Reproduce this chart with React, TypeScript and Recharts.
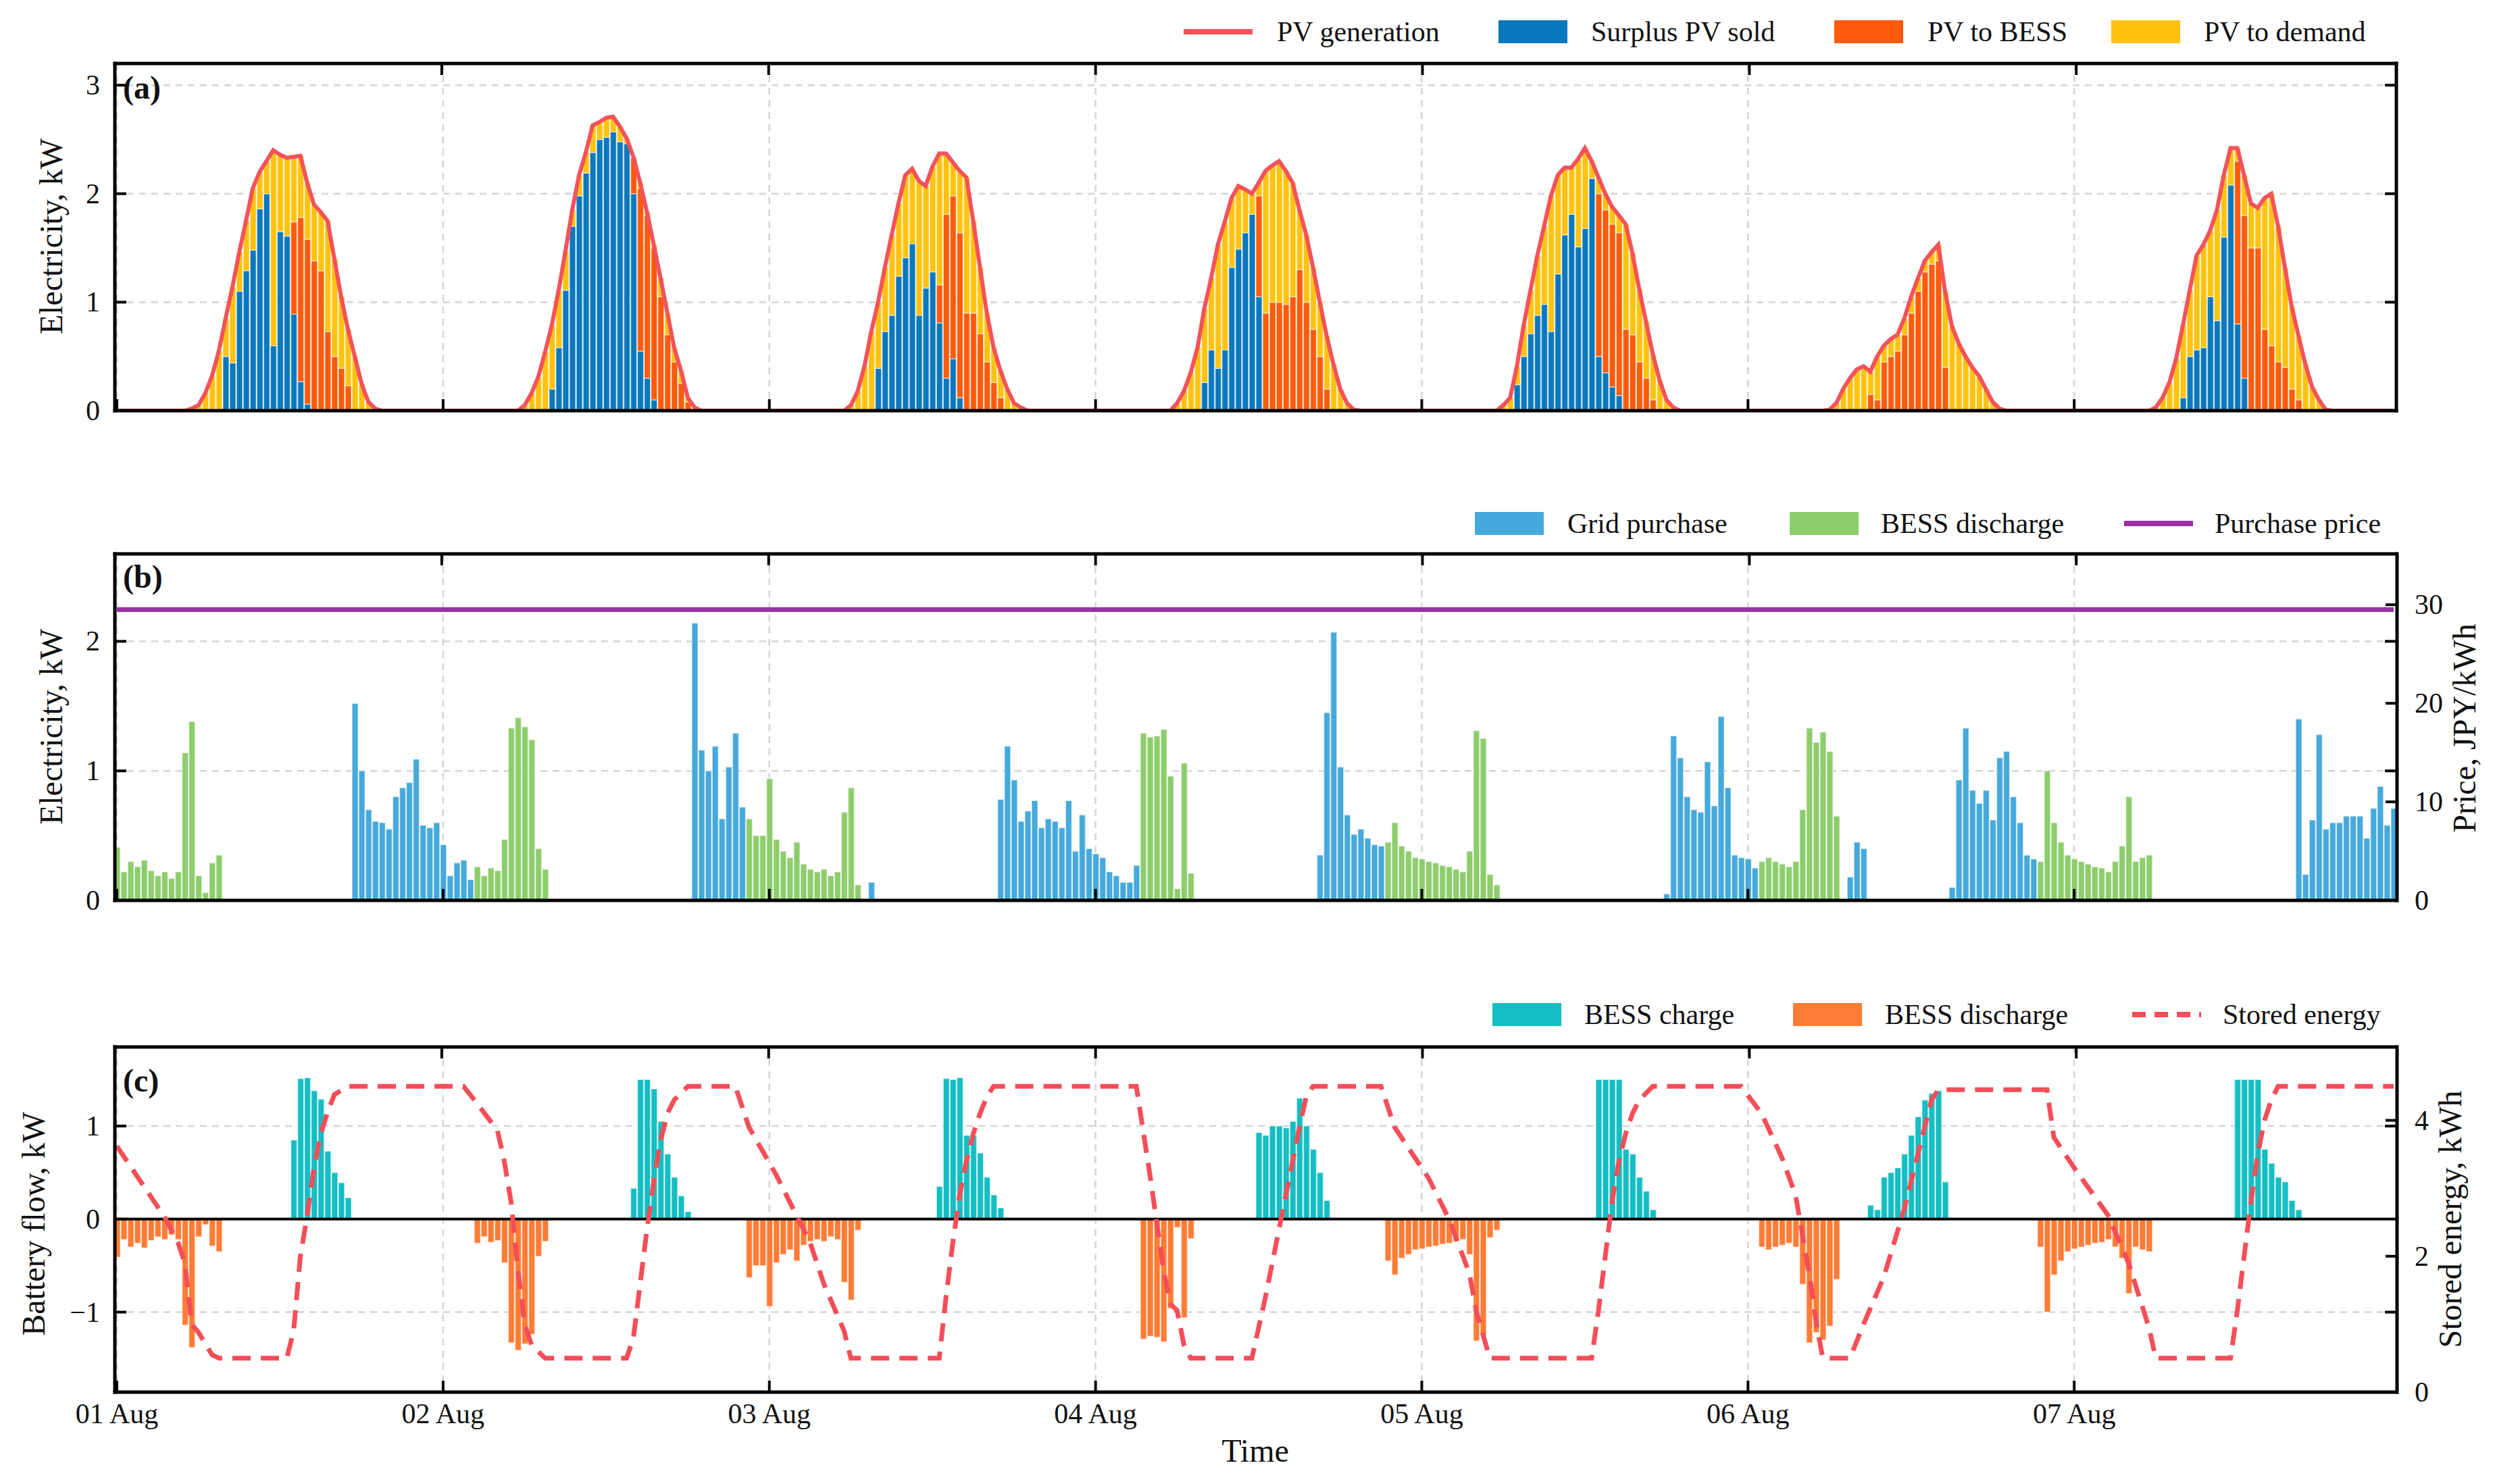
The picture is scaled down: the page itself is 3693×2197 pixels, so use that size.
import React from 'react';
import { ComposedChart, Bar, Line, XAxis, YAxis, CartesianGrid, ReferenceLine } from 'recharts';

// half-hour steps, 01 Aug 00:00 .. 07 Aug 23:30
const SLOTS = 336;
const dayLabels = ['01 Aug', '02 Aug', '03 Aug', '04 Aug', '05 Aug', '06 Aug', '07 Aug'];
const dayTicks = dayLabels.map((_, i) => i * 48);

// [first slot, values...] for each day
type Segment = [number, number[]];

const pvGeneration: Segment[] = [
  [11, [0.02, 0.05, 0.16, 0.32, 0.55, 0.85, 1.14, 1.46, 1.75, 2.05, 2.2, 2.3, 2.4, 2.36, 2.33, 2.34, 2.35, 2.1, 1.9, 1.83, 1.75, 1.4, 1.05, 0.75, 0.5, 0.25, 0.08, 0.02]],
  [60, [0.05, 0.16, 0.31, 0.54, 0.79, 1.11, 1.47, 1.85, 2.17, 2.38, 2.63, 2.66, 2.7, 2.71, 2.62, 2.51, 2.34, 2.1, 1.83, 1.53, 1.22, 0.9, 0.58, 0.37, 0.12, 0.03]],
  [108, [0.05, 0.18, 0.41, 0.73, 1.0, 1.32, 1.62, 1.91, 2.17, 2.23, 2.12, 2.07, 2.25, 2.37, 2.37, 2.29, 2.21, 2.15, 1.75, 1.32, 0.9, 0.58, 0.37, 0.2, 0.07, 0.03]],
  [156, [0.07, 0.18, 0.35, 0.58, 0.94, 1.22, 1.53, 1.74, 1.96, 2.07, 2.04, 2.0, 2.1, 2.21, 2.26, 2.3, 2.21, 2.1, 1.85, 1.62, 1.32, 1.0, 0.69, 0.43, 0.2, 0.07, 0.01]],
  [204, [0.05, 0.12, 0.41, 0.79, 1.11, 1.43, 1.7, 1.98, 2.17, 2.24, 2.24, 2.32, 2.42, 2.3, 2.15, 2.0, 1.88, 1.8, 1.72, 1.45, 1.12, 0.82, 0.52, 0.28, 0.1, 0.03]],
  [252, [0.01, 0.07, 0.2, 0.3, 0.38, 0.41, 0.36, 0.5, 0.6, 0.66, 0.7, 0.85, 1.05, 1.22, 1.38, 1.46, 1.53, 1.1, 0.78, 0.62, 0.5, 0.4, 0.32, 0.2, 0.08, 0.02]],
  [300, [0.03, 0.12, 0.26, 0.48, 0.79, 1.11, 1.43, 1.53, 1.66, 1.85, 2.17, 2.42, 2.42, 2.17, 1.91, 1.87, 1.96, 2.0, 1.7, 1.32, 0.96, 0.69, 0.43, 0.22, 0.1, 0.01]],
];

const surplusSold: Segment[] = [
  [16, [0.5, 0.44, 1.1, 1.29, 1.48, 1.86, 2.0, 0.6, 1.65, 1.61, 0.89, 0.27, 0.06]],
  [64, [0.2, 0.58, 1.11, 1.7, 1.98, 2.19, 2.38, 2.5, 2.52, 2.57, 2.48, 2.46, 2.0, 0.55, 0.3, 0.1]],
  [112, [0.39, 0.73, 0.88, 1.24, 1.41, 1.54, 0.88, 1.13, 1.28, 0.81, 0.3, 0.48, 0.12]],
  [160, [0.26, 0.56, 0.39, 0.56, 1.32, 1.49, 1.64, 1.81, 1.05]],
  [206, [0.24, 0.5, 0.71, 0.88, 0.98, 0.73, 1.26, 1.62, 1.81, 1.51, 1.68, 2.14, 0.5, 0.35, 0.22, 0.14]],
  [304, [0.12, 0.5, 0.56, 0.58, 1.05, 0.83, 1.6, 2.08, 0.8, 0.3]],
];

// PV to BESS is also the BESS charge of panel (c)
const pvToBess: Segment[] = [
  [26, [0.85, 1.51, 1.52, 1.38, 1.29, 0.73, 0.5, 0.39, 0.23]],
  [76, [0.33, 1.5, 1.5, 1.4, 1.05, 0.7, 0.45, 0.25, 0.08]],
  [121, [0.35, 1.51, 1.5, 1.52, 0.9, 0.9, 0.71, 0.45, 0.26, 0.12]],
  [168, [0.93, 0.9, 1.0, 1.0, 0.98, 1.05, 1.3, 1.0, 0.75, 0.5, 0.2]],
  [218, [1.5, 1.5, 1.5, 1.5, 0.75, 0.7, 0.45, 0.3, 0.1]],
  [258, [0.15, 0.1, 0.45, 0.5, 0.55, 0.7, 0.9, 1.1, 1.28, 1.35, 1.38, 0.4]],
  [312, [1.5, 1.5, 1.5, 1.5, 0.75, 0.6, 0.45, 0.4, 0.2, 0.1]],
];

const pvToDemand: Segment[] = [
  [11, [0.02, 0.05, 0.16, 0.32, 0.55, 0.35, 0.7, 0.36, 0.46, 0.57, 0.34, 0.3, 1.8, 0.71, 0.72, 0.6, 0.57, 0.52, 0.52, 0.54, 1.02, 0.9, 0.66, 0.52, 0.5, 0.25, 0.08, 0.02]],
  [60, [0.05, 0.16, 0.31, 0.54, 0.59, 0.53, 0.36, 0.15, 0.19, 0.19, 0.25, 0.16, 0.18, 0.14, 0.14, 0.05, 0.01, 0.05, 0.03, 0.03, 0.17, 0.2, 0.13, 0.12, 0.04, 0.03]],
  [108, [0.05, 0.18, 0.41, 0.73, 0.61, 0.59, 0.74, 0.67, 0.76, 0.69, 1.24, 0.94, 0.97, 1.21, 0.56, 0.31, 0.57, 1.25, 0.85, 0.61, 0.45, 0.32, 0.25, 0.2, 0.07, 0.03]],
  [156, [0.07, 0.18, 0.35, 0.58, 0.68, 0.66, 1.14, 1.18, 0.64, 0.58, 0.4, 0.19, 0.12, 1.31, 1.26, 1.3, 1.23, 1.05, 0.55, 0.62, 0.57, 0.5, 0.49, 0.43, 0.2, 0.07, 0.01]],
  [204, [0.05, 0.12, 0.17, 0.29, 0.4, 0.55, 0.72, 1.25, 0.91, 0.62, 0.43, 0.81, 0.74, 0.16, 0.15, 0.15, 0.16, 0.16, 0.97, 0.75, 0.67, 0.52, 0.42, 0.28, 0.1, 0.03]],
  [252, [0.01, 0.07, 0.2, 0.3, 0.38, 0.41, 0.21, 0.4, 0.15, 0.16, 0.15, 0.15, 0.15, 0.12, 0.1, 0.11, 0.15, 0.7, 0.78, 0.62, 0.5, 0.4, 0.32, 0.2, 0.08, 0.02]],
  [300, [0.03, 0.12, 0.26, 0.48, 0.67, 0.61, 0.87, 0.95, 0.61, 1.02, 0.57, 0.34, 0.12, 0.37, 0.41, 0.37, 1.21, 1.4, 1.25, 0.92, 0.76, 0.59, 0.43, 0.22, 0.1, 0.01]],
];

const gridPurchase: Segment[] = [
  [35, [1.52, 1.0, 0.7, 0.61, 0.6, 0.55, 0.8, 0.87, 0.91, 1.09, 0.58, 0.56, 0.6, 0.43, 0.19, 0.29, 0.31, 0.16]],
  [85, [2.14, 1.16, 1.0, 1.19, 0.63, 1.03, 1.29, 0.72]],
  [111, [0.14]],
  [130, [0.78, 1.19, 0.93, 0.61, 0.69, 0.77, 0.56, 0.63, 0.61, 0.56, 0.77, 0.38, 0.66, 0.4, 0.36, 0.33, 0.22, 0.19, 0.14, 0.14, 0.27]],
  [177, [0.35, 1.45, 2.07, 1.03, 0.66, 0.51, 0.55, 0.48, 0.43, 0.42]],
  [228, [0.05, 1.27, 1.1, 0.8, 0.7, 0.68, 1.07, 0.73, 1.42, 0.87, 0.35, 0.33, 0.32, 0.25]],
  [255, [0.18, 0.45, 0.4]],
  [270, [0.1, 0.93, 1.33, 0.85, 0.75, 0.85, 0.62, 1.1, 1.15, 0.8, 0.6, 0.35, 0.32]],
  [321, [1.4, 0.2, 0.62, 1.28, 0.55, 0.6, 0.6, 0.65, 0.65, 0.65, 0.48, 0.71, 0.88, 0.58, 0.71]],
];

// BESS discharge, shown in (b) and downwards in (c)
const bessDischarge: Segment[] = [
  [0, [0.41, 0.22, 0.3, 0.26, 0.31, 0.23, 0.19, 0.22, 0.17, 0.22, 1.14, 1.38, 0.19, 0.06, 0.29, 0.35]],
  [53, [0.26, 0.19, 0.25, 0.23, 0.47, 1.33, 1.41, 1.34, 1.24, 0.4, 0.24]],
  [93, [0.63, 0.5, 0.5, 0.94, 0.47, 0.38, 0.33, 0.45, 0.28, 0.24, 0.22, 0.24, 0.19, 0.22, 0.68, 0.87, 0.12]],
  [151, [1.29, 1.26, 1.27, 1.32, 0.96, 0.09, 1.06, 0.21]],
  [187, [0.45, 0.6, 0.42, 0.38, 0.33, 0.32, 0.3, 0.29, 0.27, 0.26, 0.24, 0.22, 0.38, 1.31, 1.25, 0.2, 0.12]],
  [242, [0.3, 0.33, 0.3, 0.28, 0.26, 0.3, 0.7, 1.33, 1.22, 1.3, 1.15, 0.65]],
  [283, [0.3, 1.0, 0.6, 0.45, 0.35, 0.32, 0.3, 0.28, 0.26, 0.25, 0.22, 0.3, 0.42, 0.8, 0.3, 0.33, 0.35]],
];

const purchasePrice = 29.5; // JPY/kWh

// [slot, kWh]
const storedEnergy: [number, number][] = [
  [0, 3.62], [7, 2.58], [9, 2.2], [10, 1.9], [11, 1.0], [12, 0.88], [14, 0.55], [15, 0.5], [25, 0.5], [26, 0.9], [27, 2.0], [28, 2.6], [29, 3.3], [30, 3.8], [31, 4.12], [32, 4.38], [34, 4.5],
  [51, 4.5], [53, 4.25], [56, 3.85], [57, 3.4], [58, 2.8], [59, 1.8], [60, 1.0], [61, 0.7], [63, 0.5],
  [75, 0.5], [76, 0.8], [77, 1.6], [78, 2.4], [79, 3.1], [80, 3.7], [81, 4.1], [82, 4.3], [84, 4.5],
  [91, 4.5], [93, 3.9], [97, 3.2], [102, 2.2], [104, 1.6], [107, 0.9], [108, 0.5],
  [121, 0.5], [122, 1.4], [123, 2.2], [124, 2.9], [125, 3.4], [126, 3.8], [127, 4.1], [128, 4.35], [129, 4.5],
  [150, 4.5], [151, 3.85], [152, 3.2], [153, 2.5], [154, 1.8], [155, 1.3], [156, 1.2], [157, 0.7], [158, 0.5],
  [167, 0.5], [168, 0.95], [169, 1.4], [170, 1.9], [171, 2.4], [172, 2.9], [173, 3.4], [174, 3.9], [175, 4.35], [176, 4.5],
  [186, 4.5], [188, 3.9], [193, 3.15], [196, 2.55], [199, 1.75], [200, 1.2], [202, 0.5],
  [217, 0.5], [218, 1.2], [219, 2.0], [220, 2.8], [221, 3.4], [222, 3.8], [223, 4.1], [224, 4.3], [226, 4.5],
  [239, 4.5], [242, 4.1], [245, 3.45], [247, 2.9], [249, 1.75], [250, 1.05], [251, 0.5],
  [255, 0.5], [257, 1.0], [260, 1.7], [263, 2.7], [265, 3.5], [267, 4.3], [268, 4.45],
  [284, 4.45], [285, 3.75], [288, 3.3], [293, 2.6], [296, 1.9], [299, 0.95], [300, 0.5],
  [311, 0.5], [312, 1.2], [313, 2.0], [314, 2.8], [315, 3.5], [316, 4.0], [317, 4.3], [318, 4.5], [335, 4.5],
];

const expand = (segments: Segment[]) => {
  const out: number[] = new Array(SLOTS).fill(0);
  segments.forEach(([start, vals]) => vals.forEach((v, i) => { out[start + i] = v; }));
  return out;
};

const pv = expand(pvGeneration);
const sold = expand(surplusSold);
const toBess = expand(pvToBess);
const toDemand = expand(pvToDemand);
const grid = expand(gridPurchase);
const discharge = expand(bessDischarge);

const rows = pv.map((_, t) => ({
  t,
  pv: pv[t],
  sold: sold[t],
  toBess: toBess[t],
  toDemand: toDemand[t],
  grid: grid[t],
  discharge: discharge[t],
  price: purchasePrice,
  charge: toBess[t],
  dischargeDown: -discharge[t],
}));
const socRows = storedEnergy.map(([t, e]) => ({ t, soc: e }));

const FONT = '"Liberation Serif", "Times New Roman", Times, serif';
const W = 3693;
const H = 2197;
const PLOT_L = 170;
const PLOT_R = 3547;
const X_DOMAIN: [number, number] = [-0.3, 335.4];
const TICK = 17;
const SPINE = { stroke: '#000', strokeWidth: 5, strokeLinecap: 'square' as const };

const fmt = (v: number) => (v < 0 ? `\u2212${-v}` : String(v));

const bottomTick = (withLabel: boolean) => (props: any) => {
  const { x, y, payload } = props;
  return (
    <g>
      <line x1={x} x2={x} y1={y} y2={y - TICK} stroke="#000" strokeWidth={4} />
      {withLabel && (
        <text x={x} y={y + 46} textAnchor="middle" fontSize={42} fontFamily={FONT} fill="#111">
          {dayLabels[Math.round(payload.value / 48)]}
        </text>
      )}
    </g>
  );
};

const topTick = (props: any) => {
  const { x, y } = props;
  return <line x1={x} x2={x} y1={y} y2={y + TICK} stroke="#000" strokeWidth={4} />;
};

const leftTick = (props: any) => {
  const { x, y, payload } = props;
  return (
    <g>
      <line x1={x} x2={x + TICK} y1={y} y2={y} stroke="#000" strokeWidth={4} />
      <text x={x - 22} y={y + 14} textAnchor="end" fontSize={42} fontFamily={FONT} fill="#111">
        {fmt(payload.value)}
      </text>
    </g>
  );
};

const rightTick = (withLabel: boolean) => (props: any) => {
  const { x, y, payload } = props;
  return (
    <g>
      <line x1={x} x2={x - TICK} y1={y} y2={y} stroke="#000" strokeWidth={4} />
      {withLabel && (
        <text x={x + 26} y={y + 14} textAnchor="start" fontSize={42} fontFamily={FONT} fill="#111">
          {fmt(payload.value)}
        </text>
      )}
    </g>
  );
};

const barEdge = { stroke: '#ffffff', strokeOpacity: 0.5, strokeWidth: 1.5 };

type LegendItem = { label: string; color: string; kind: 'rect' | 'line' | 'dash'; x: number; textX: number };

const LegendRow = ({ y, items }: { y: number; items: LegendItem[] }) => (
  <>
    {items.map((it) => (
      <React.Fragment key={it.label}>
        <svg style={{ position: 'absolute', left: it.x, top: y - 17 }} width={102} height={34}>
          {it.kind === 'rect' ? (
            <rect x={0} y={0} width={102} height={34} fill={it.color} />
          ) : (
            <line x1={0} x2={102} y1={17} y2={17} stroke={it.color} strokeWidth={8}
              strokeDasharray={it.kind === 'dash' ? '20 13' : undefined} />
          )}
        </svg>
        <div style={{ position: 'absolute', left: it.textX, top: y - 24, fontSize: 42, fontFamily: FONT, lineHeight: '48px', whiteSpace: 'nowrap', color: '#111' }}>
          {it.label}
        </div>
      </React.Fragment>
    ))}
  </>
);

const VTitle = ({ text, cx, cy }: { text: string; cx: number; cy: number }) => (
  <div style={{ position: 'absolute', left: cx, top: cy, transform: 'translate(-50%, -50%) rotate(-90deg)', fontSize: 48, fontFamily: FONT, lineHeight: 1, whiteSpace: 'nowrap', color: '#111' }}>
    {text}
  </div>
);

const PanelTag = ({ text, x, y }: { text: string; x: number; y: number }) => (
  <div style={{ position: 'absolute', left: x, top: y, fontSize: 48, fontWeight: 'bold', fontFamily: FONT, lineHeight: 1, color: '#111' }}>
    {text}
  </div>
);

const C = {
  pv: '#F4525A',
  sold: '#0B78BD',
  toBess: '#FF5B0A',
  toDemand: '#FFC20E',
  grid: '#45A9DB',
  discharge: '#8DCD6C',
  price: '#9B30A8',
  charge: '#14BEC3',
  dischargeC: '#FF7C36',
  soc: '#F44E58',
};

const gridProps = { xAxisId: 'b', yAxisId: 'l', stroke: '#d4d4d4', strokeDasharray: '10 8', strokeWidth: 2.5 };

// axes take 1px each (a 0-size axis is not drawn), so margins are 1px smaller
const chartMargin = (top: number, bottom: number, rightAxes: number) => ({
  top: top - 1, bottom: bottom - 1, left: PLOT_L - 1, right: W - PLOT_R - rightAxes,
});

const commonX = (withLabels: boolean) => [
  <XAxis key="xb" xAxisId="b" dataKey="t" type="number" domain={X_DOMAIN} ticks={dayTicks} allowDataOverflow
    height={1} tickSize={0} tickMargin={0} axisLine={SPINE} tickLine={false} tick={bottomTick(withLabels)} interval={0} />,
  <XAxis key="xt" xAxisId="t" orientation="top" type="number" domain={X_DOMAIN} ticks={dayTicks} allowDataOverflow
    height={1} tickSize={0} tickMargin={0} axisLine={SPINE} tickLine={false} tick={topTick} interval={0} />,
];

const App = () => (
  <div style={{ position: 'relative', width: W, height: H, background: '#fff', overflow: 'hidden' }}>
    <style>{'body{margin:0;background:#fff}'}</style>

    {/* (a) PV generation split */}
    <div style={{ position: 'absolute', left: 0, top: 0 }}>
      <ComposedChart width={W} height={660} data={rows} margin={chartMargin(94, 52, 1)}>
        <CartesianGrid {...gridProps} />
        {commonX(false)}
        <YAxis yAxisId="l" type="number" domain={[0, 3.2]} ticks={[0, 1, 2, 3]} allowDataOverflow width={1}
          tickSize={0} tickMargin={0} axisLine={SPINE} tickLine={false} tick={leftTick} interval={0} />
        <YAxis yAxisId="r" orientation="right" type="number" domain={[0, 3.2]} ticks={[0, 1, 2, 3]} allowDataOverflow width={1}
          tickSize={0} tickMargin={0} axisLine={SPINE} tickLine={false} tick={rightTick(false)} interval={0} />
        <Bar xAxisId="b" yAxisId="l" dataKey="sold" stackId="a" fill={C.sold} barSize={9} {...barEdge} isAnimationActive={false} />
        <Bar xAxisId="b" yAxisId="l" dataKey="toBess" stackId="a" fill={C.toBess} barSize={9} {...barEdge} isAnimationActive={false} />
        <Bar xAxisId="b" yAxisId="l" dataKey="toDemand" stackId="a" fill={C.toDemand} barSize={9} {...barEdge} isAnimationActive={false} />
        <Line xAxisId="b" yAxisId="l" dataKey="pv" type="linear" stroke={C.pv} strokeWidth={6} dot={false} isAnimationActive={false} />
      </ComposedChart>
    </div>

    {/* (b) supply to demand */}
    <div style={{ position: 'absolute', left: 0, top: 700 }}>
      <ComposedChart width={W} height={680} data={rows} margin={chartMargin(120, 47, 2)}>
        <CartesianGrid {...gridProps} />
        {commonX(false)}
        <YAxis yAxisId="l" type="number" domain={[0, 2.675]} ticks={[0, 1, 2]} allowDataOverflow width={1}
          tickSize={0} tickMargin={0} axisLine={SPINE} tickLine={false} tick={leftTick} interval={0} />
        <YAxis yAxisId="lm" orientation="right" type="number" domain={[0, 2.675]} ticks={[1, 2]} allowDataOverflow width={1}
          tickSize={0} tickMargin={0} axisLine={false} tickLine={false} tick={rightTick(false)} interval={0} />
        <YAxis yAxisId="r" orientation="right" type="number" domain={[0, 35.16]} ticks={[0, 10, 20, 30]} allowDataOverflow width={1}
          tickSize={0} tickMargin={0} axisLine={SPINE} tickLine={false} tick={rightTick(true)} interval={0} />
        <Bar xAxisId="b" yAxisId="l" dataKey="grid" stackId="b" fill={C.grid} barSize={9} {...barEdge} isAnimationActive={false} />
        <Bar xAxisId="b" yAxisId="l" dataKey="discharge" stackId="b" fill={C.discharge} barSize={9} {...barEdge} isAnimationActive={false} />
        <Line xAxisId="b" yAxisId="r" dataKey="price" type="linear" stroke={C.price} strokeWidth={7} dot={false} isAnimationActive={false} />
      </ComposedChart>
    </div>

    {/* (c) battery */}
    <div style={{ position: 'absolute', left: 0, top: 1420 }}>
      <ComposedChart width={W} height={777} data={rows} stackOffset="sign" margin={chartMargin(130, 136, 2)}>
        <CartesianGrid {...gridProps} />
        {commonX(true)}
        <YAxis yAxisId="l" type="number" domain={[-1.86, 1.85]} ticks={[-1, 0, 1]} allowDataOverflow width={1}
          tickSize={0} tickMargin={0} axisLine={SPINE} tickLine={false} tick={leftTick} interval={0} />
        <YAxis yAxisId="lm" orientation="right" type="number" domain={[-1.86, 1.85]} ticks={[-1, 1]} allowDataOverflow width={1}
          tickSize={0} tickMargin={0} axisLine={false} tickLine={false} tick={rightTick(false)} interval={0} />
        <YAxis yAxisId="r" orientation="right" type="number" domain={[0, 5.08]} ticks={[0, 2, 4]} allowDataOverflow width={1}
          tickSize={0} tickMargin={0} axisLine={SPINE} tickLine={false} tick={rightTick(true)} interval={0} />
        <ReferenceLine xAxisId="b" yAxisId="l" y={0} stroke="#000" strokeWidth={4} />
        <Bar xAxisId="b" yAxisId="l" dataKey="charge" stackId="c" fill={C.charge} barSize={9} {...barEdge} isAnimationActive={false} />
        <Bar xAxisId="b" yAxisId="l" dataKey="dischargeDown" stackId="c" fill={C.dischargeC} barSize={9} {...barEdge} isAnimationActive={false} />
        <Line xAxisId="b" yAxisId="r" data={socRows} dataKey="soc" type="linear" stroke={C.soc} strokeWidth={7}
          strokeDasharray="27 15" dot={false} isAnimationActive={false} />
      </ComposedChart>
    </div>

    <LegendRow y={47} items={[
      { label: 'PV generation', color: C.pv, kind: 'line', x: 1752, textX: 1890 },
      { label: 'Surplus PV sold', color: C.sold, kind: 'rect', x: 2218, textX: 2355 },
      { label: 'PV to BESS', color: C.toBess, kind: 'rect', x: 2715, textX: 2853 },
      { label: 'PV to demand', color: C.toDemand, kind: 'rect', x: 3125, textX: 3262 },
    ]} />
    <LegendRow y={775} items={[
      { label: 'Grid purchase', color: C.grid, kind: 'rect', x: 2183, textX: 2320 },
      { label: 'BESS discharge', color: C.discharge, kind: 'rect', x: 2649, textX: 2784 },
      { label: 'Purchase price', color: C.price, kind: 'line', x: 3144, textX: 3278 },
    ]} />
    <LegendRow y={1502} items={[
      { label: 'BESS charge', color: C.charge, kind: 'rect', x: 2209, textX: 2345 },
      { label: 'BESS discharge', color: C.dischargeC, kind: 'rect', x: 2654, textX: 2790 },
      { label: 'Stored energy', color: C.soc, kind: 'dash', x: 3156, textX: 3290 },
    ]} />

    <PanelTag text="(a)" x={182} y={106} />
    <PanelTag text="(b)" x={182} y={830} />
    <PanelTag text="(c)" x={182} y={1576} />

    <VTitle text="Electricity, kW" cx={76} cy={350} />
    <VTitle text="Electricity, kW" cx={76} cy={1076} />
    <VTitle text="Battery flow, kW" cx={50} cy={1812} />
    <VTitle text="Price, JPY/kWh" cx={3648} cy={1078} />
    <VTitle text="Stored energy, kWh" cx={3627} cy={1805} />

    <div style={{ position: 'absolute', left: 1858, top: 2148, transform: 'translate(-50%, -50%)', fontSize: 48, fontFamily: FONT, lineHeight: 1, color: '#111' }}>
      Time
    </div>
  </div>
);

export default App;
